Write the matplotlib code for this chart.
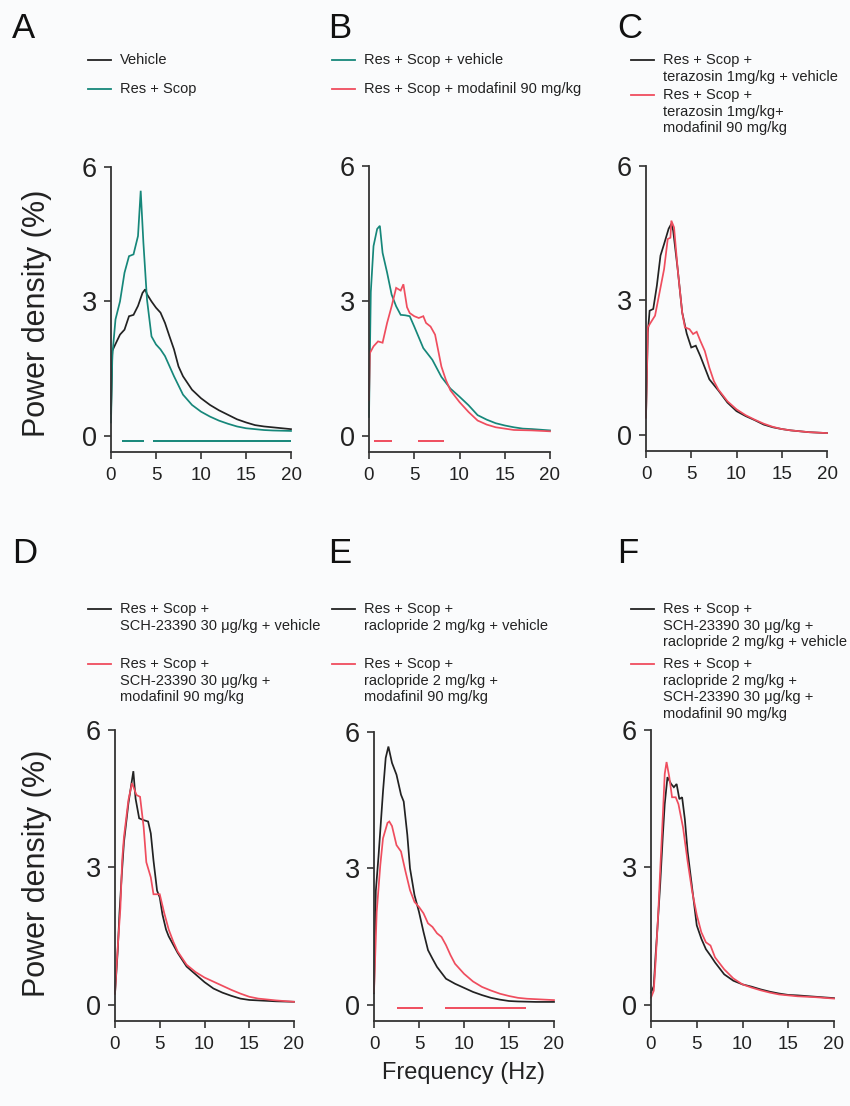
import matplotlib
matplotlib.use("Agg")
import matplotlib.pyplot as plt
from matplotlib.lines import Line2D

plt.rcParams['font.family'] = ['Liberation Sans', 'DejaVu Sans']

W, H = 850, 1106
BG = '#fafbfc'
BLACK = '#222222'
TEAL = '#16877a'
RED = '#ef4d5e'
AX = '#333333'

# ---------------- data ----------------
# Panel A
a_veh_hz = [0, 0.15, 0.5, 1, 1.5, 2, 2.5, 3, 3.5, 3.8, 4, 4.5, 5, 5.5, 6, 6.5, 7, 7.5, 8, 9, 10,
            11, 12, 13, 14, 15, 16, 17, 18, 19, 20]
a_veh_pd = [0.5, 1.9, 2.05, 2.26, 2.37, 2.67, 2.7, 2.9, 3.19, 3.27, 3.16, 3.0, 2.86, 2.75, 2.52, 2.22,
            1.93, 1.55, 1.33, 1.03, 0.84, 0.69, 0.57, 0.47, 0.37, 0.30, 0.24, 0.21, 0.19, 0.17, 0.15]
a_rs_hz = [0, 0.15, 0.5, 1, 1.5, 2, 2.5, 3, 3.3, 3.6, 4, 4.5, 5, 5.5, 6, 7, 8, 9, 10, 11, 12, 13,
           14, 15, 16, 17, 18, 20]
a_rs_pd = [0.3, 1.8, 2.6, 3.0, 3.64, 4.01, 4.05, 4.46, 5.47, 4.31, 3.04, 2.22, 2.04, 1.93, 1.78,
           1.33, 0.92, 0.69, 0.54, 0.43, 0.34, 0.27, 0.21, 0.17, 0.15, 0.13, 0.12, 0.11]
a_sig = [(1.26, 3.67), (4.71, 20.0)]

# Panel B
b_veh_hz = [0, 0.2, 0.5, 0.9, 1.2, 1.5, 2, 2.5, 3, 3.5, 4, 4.5, 5, 6, 7, 8, 9, 10, 11, 12, 13, 14,
            15, 16, 17, 18, 20]
b_veh_pd = [0.42, 3.2, 4.22, 4.6, 4.67, 4.07, 3.63, 3.14, 2.88, 2.69, 2.68, 2.66, 2.43, 1.95, 1.69,
            1.31, 1.05, 0.87, 0.68, 0.46, 0.36, 0.28, 0.23, 0.19, 0.16, 0.15, 0.12]
b_mod_hz = [0, 0.1, 0.5, 1, 1.5, 2, 2.5, 3, 3.5, 3.8, 4.2, 4.5, 5, 5.5, 6, 6.3, 6.8, 7.3, 8, 8.5, 9,
            10, 11, 12, 13, 14, 15, 16, 18, 20]
b_mod_pd = [0.8, 1.84, 1.99, 2.1, 2.07, 2.51, 2.88, 3.29, 3.23, 3.37, 2.86, 2.73, 2.66, 2.62, 2.66,
            2.51, 2.43, 2.25, 1.54, 1.24, 1.01, 0.75, 0.53, 0.34, 0.25, 0.19, 0.16, 0.13, 0.12, 0.10]
b_sig = [(0.6, 2.5), (5.45, 8.25)]

# Panel C
c_veh_hz = [0, 0.2, 0.4, 0.8, 1.2, 1.6, 2, 2.5, 2.8, 3.0, 3.5, 4, 4.5, 5, 5.5, 6, 6.5, 7, 8, 9, 10,
            11, 12, 13, 14, 15, 16, 17, 18, 20]
c_veh_pd = [0.4, 2.28, 2.77, 2.81, 3.33, 4.0, 4.26, 4.6, 4.71, 4.56, 3.70, 2.73, 2.26, 1.95, 1.99,
            1.76, 1.5, 1.24, 0.99, 0.72, 0.53, 0.42, 0.33, 0.23, 0.17, 0.13, 0.10, 0.08, 0.06, 0.04]
c_mod_hz = [0, 0.2, 0.5, 1, 1.5, 2, 2.4, 2.7, 2.8, 3.1, 3.5, 4, 4.3, 4.8, 5.2, 5.6, 6, 6.5, 7, 7.5,
            8, 9, 10, 11, 12, 13, 14, 15, 16, 18, 20]
c_mod_pd = [0.38, 2.4, 2.5, 2.66, 3.18, 3.7, 4.37, 4.4, 4.78, 4.63, 3.7, 2.73, 2.4, 2.36, 2.25, 2.3,
            2.1, 1.87, 1.5, 1.2, 1.01, 0.75, 0.57, 0.44, 0.34, 0.25, 0.18, 0.13, 0.10, 0.06, 0.04]

# Panel D
d_veh_hz = [0, 0.3, 0.5, 0.75, 1, 1.5, 2.05, 2.3, 2.7, 3.2, 3.7, 4, 4.3, 4.7, 5, 5.3, 5.7, 6, 6.5,
            7, 8, 9, 10, 11, 12, 13, 14, 15, 16, 18, 20]
d_veh_pd = [0.24, 1.16, 2.0, 2.82, 3.55, 4.4, 5.1, 4.5, 4.07, 4.03, 4.0, 3.74, 3.15, 2.49, 2.34,
            1.97, 1.64, 1.49, 1.31, 1.13, 0.83, 0.66, 0.49, 0.35, 0.26, 0.19, 0.13, 0.10, 0.09,
            0.07, 0.06]
d_mod_hz = [0, 0.3, 0.6, 0.8, 1, 1.5, 1.9, 2.4, 2.8, 3.2, 3.5, 4, 4.3, 4.7, 5, 5.5, 6, 6.5, 7, 8,
            9, 10, 11, 12, 13, 14, 15, 16, 17, 18, 20]
d_mod_pd = [0.24, 1.24, 2.1, 3.15, 3.66, 4.47, 4.84, 4.58, 4.54, 3.88, 3.11, 2.78, 2.41, 2.41,
            2.41, 2.0, 1.64, 1.38, 1.16, 0.87, 0.71, 0.59, 0.5, 0.41, 0.32, 0.24, 0.17, 0.13,
            0.11, 0.09, 0.06]

# Panel E
e_veh_hz = [0, 0.2, 0.5, 1, 1.3, 1.6, 2, 2.5, 3, 3.3, 3.7, 4, 4.5, 5, 5.5, 6, 6.5, 7, 8, 9, 10, 11,
            12, 13, 14, 15, 16, 18, 20]
e_veh_pd = [0.25, 2.5, 3.26, 4.69, 5.43, 5.68, 5.32, 5.06, 4.62, 4.47, 3.74, 3.0, 2.41, 2.04, 1.6,
            1.2, 1.01, 0.83, 0.57, 0.46, 0.37, 0.28, 0.21, 0.15, 0.11, 0.08, 0.07, 0.06, 0.06]
e_mod_hz = [0, 0.3, 0.7, 1, 1.5, 1.7, 2, 2.5, 3, 3.5, 4, 4.5, 5, 5.5, 6, 6.5, 7, 7.5, 8, 8.5, 9, 10,
            11, 12, 13, 14, 15, 16, 17, 18, 20]
e_mod_pd = [0.28, 2.04, 3.07, 3.66, 4.0, 4.03, 3.93, 3.51, 3.37, 2.93, 2.52, 2.26, 2.15, 2.01,
            1.79, 1.71, 1.57, 1.49, 1.31, 1.09, 0.9, 0.68, 0.51, 0.39, 0.31, 0.24, 0.19, 0.15,
            0.13, 0.12, 0.10]
e_sig = [(2.57, 5.47), (7.9, 16.9)]

# Panel F
f_veh_hz = [0, 0.3, 0.5, 0.7, 1, 1.3, 1.5, 1.8, 2.2, 2.5, 2.8, 3.1, 3.4, 3.7, 4, 4.5, 5, 5.5, 6,
            6.5, 7, 8, 9, 10, 11, 12, 13, 14, 15, 16, 18, 20]
f_veh_pd = [0.26, 0.4, 1.07, 1.66, 2.61, 3.72, 4.38, 4.97, 4.82, 4.75, 4.82, 4.49, 4.53, 4.05,
            3.35, 2.54, 1.73, 1.44, 1.21, 1.07, 0.92, 0.66, 0.52, 0.44, 0.39, 0.33, 0.28, 0.24,
            0.21, 0.20, 0.17, 0.14]
f_mod_hz = [0, 0.3, 0.5, 0.8, 1, 1.3, 1.5, 1.7, 2, 2.3, 2.7, 3, 3.5, 4, 4.5, 5, 5.5, 6, 6.5, 7, 8,
            9, 10, 11, 12, 13, 14, 15, 16, 18, 20]
f_mod_pd = [0.15, 0.3, 0.92, 2.03, 2.91, 4.16, 5.04, 5.3, 4.97, 4.53, 4.53, 4.38, 3.87, 3.13, 2.47,
            1.96, 1.58, 1.36, 1.29, 1.03, 0.77, 0.57, 0.44, 0.37, 0.31, 0.26, 0.22, 0.20, 0.18,
            0.16, 0.13]

panel_letters = ['A', 'B', 'C', 'D', 'E', 'F']
x_ticks = [0, 5, 10, 15, 20]
y_ticks = [0, 3, 6]

legend_labels = {
    'A': ['Vehicle', 'Res + Scop'],
    'B': ['Res + Scop + vehicle', 'Res + Scop + modafinil 90 mg/kg'],
    'C': ['Res + Scop +\nterazosin 1mg/kg + vehicle',
          'Res + Scop +\nterazosin 1mg/kg+\nmodafinil 90 mg/kg'],
    'D': ['Res + Scop +\nSCH-23390 30 \u03bcg/kg + vehicle',
          'Res + Scop +\nSCH-23390 30 \u03bcg/kg +\nmodafinil 90 mg/kg'],
    'E': ['Res + Scop +\nraclopride 2 mg/kg + vehicle',
          'Res + Scop +\nraclopride 2 mg/kg +\nmodafinil 90 mg/kg'],
    'F': ['Res + Scop +\nSCH-23390 30 \u03bcg/kg +\nraclopride 2 mg/kg + vehicle',
          'Res + Scop +\nraclopride 2 mg/kg +\nSCH-23390 30 \u03bcg/kg +\nmodafinil 90 mg/kg'],
}

# ---------------- layout (pixels) ----------------
panels = {
    'A': dict(l=111, r=291, t=167, b=452, lx=12, ly=38, gx=88, gy=[60, 89]),
    'B': dict(l=369, r=550, t=166, b=452, lx=328, ly=38, gx=332, gy=[60, 89]),
    'C': dict(l=646, r=827, t=166, b=451, lx=617, ly=38, gx=631, gy=[60, 95]),
    'D': dict(l=115, r=294, t=730, b=1021, lx=12, ly=563, gx=88, gy=[609, 664]),
    'E': dict(l=374, r=554, t=732, b=1021, lx=328, ly=563, gx=332, gy=[609, 664]),
    'F': dict(l=651, r=834, t=730, b=1021, lx=617, ly=563, gx=631, gy=[609, 664]),
}

series = {
    'A': [(a_veh_hz, a_veh_pd, BLACK), (a_rs_hz, a_rs_pd, TEAL)],
    'B': [(b_veh_hz, b_veh_pd, TEAL), (b_mod_hz, b_mod_pd, RED)],
    'C': [(c_veh_hz, c_veh_pd, BLACK), (c_mod_hz, c_mod_pd, RED)],
    'D': [(d_veh_hz, d_veh_pd, BLACK), (d_mod_hz, d_mod_pd, RED)],
    'E': [(e_veh_hz, e_veh_pd, BLACK), (e_mod_hz, e_mod_pd, RED)],
    'F': [(f_veh_hz, f_veh_pd, BLACK), (f_mod_hz, f_mod_pd, RED)],
}
sig = {'A': (a_sig, TEAL, -0.11), 'B': (b_sig, RED, -0.12), 'E': (e_sig, RED, -0.08)}

YMIN = -0.36

fig = plt.figure(figsize=(W / 100, H / 100), dpi=100, facecolor=BG)


def fx(px):
    return px / W


def fy(py):
    return 1 - py / H


LEG_FS = 10.5
LINE_STEP = 16.6

for key in panel_letters:
    p = panels[key]
    ax = fig.add_axes([fx(p['l']), fy(p['b']), (p['r'] - p['l']) / W, (p['b'] - p['t']) / H])
    ax.set_facecolor('none')
    for xs, ys, col in series[key]:
        ax.plot(xs, ys, color=col, lw=1.25, solid_joinstyle='miter', clip_on=False)
    if key in sig:
        segs, col, yv = sig[key]
        for s0, s1 in segs:
            ax.plot([s0, s1], [yv, yv], color=col, lw=1.4, solid_capstyle='butt')
    ax.set_xlim(0, 20)
    ax.set_ylim(YMIN, 6)
    ax.set_xticks(x_ticks)
    ax.set_yticks(y_ticks)
    for side in ['top', 'right']:
        ax.spines[side].set_visible(False)
    for side in ['left', 'bottom']:
        ax.spines[side].set_color(AX)
        ax.spines[side].set_linewidth(1.3)
    ax.tick_params(axis='both', direction='out', length=5, width=1.2, color=AX, labelcolor='#222222')
    ax.tick_params(axis='x', labelsize=13.5, pad=6)
    ax.tick_params(axis='y', labelsize=19.5, pad=5)

    # panel letter
    fig.text(fx(p['lx']), fy(p['ly']), key, fontsize=25, color='#111111', va='baseline', ha='left')

    # legend
    for (xs, ys, col), lab, gy in zip(series[key], legend_labels[key], p['gy']):
        fig.add_artist(Line2D([fx(p['gx']), fx(p['gx'] + 23)], [fy(gy), fy(gy)], color=col, lw=1.3))
        for i, line in enumerate(lab.split('\n')):
            fig.text(fx(p['gx'] + 32), fy(gy + i * LINE_STEP), line, fontsize=LEG_FS,
                     color='#222222', va='center', ha='left')

# axis labels
for yc in [313, 873]:
    fig.text(fx(37), fy(yc), 'Power density (%)', rotation=90, fontsize=22,
             color='#222222', ha='center', va='center')
fig.text(fx(464), fy(1073), 'Frequency (Hz)', fontsize=17, color='#222222', ha='center', va='center')

fig.savefig('out.png', dpi=100, facecolor=BG)
